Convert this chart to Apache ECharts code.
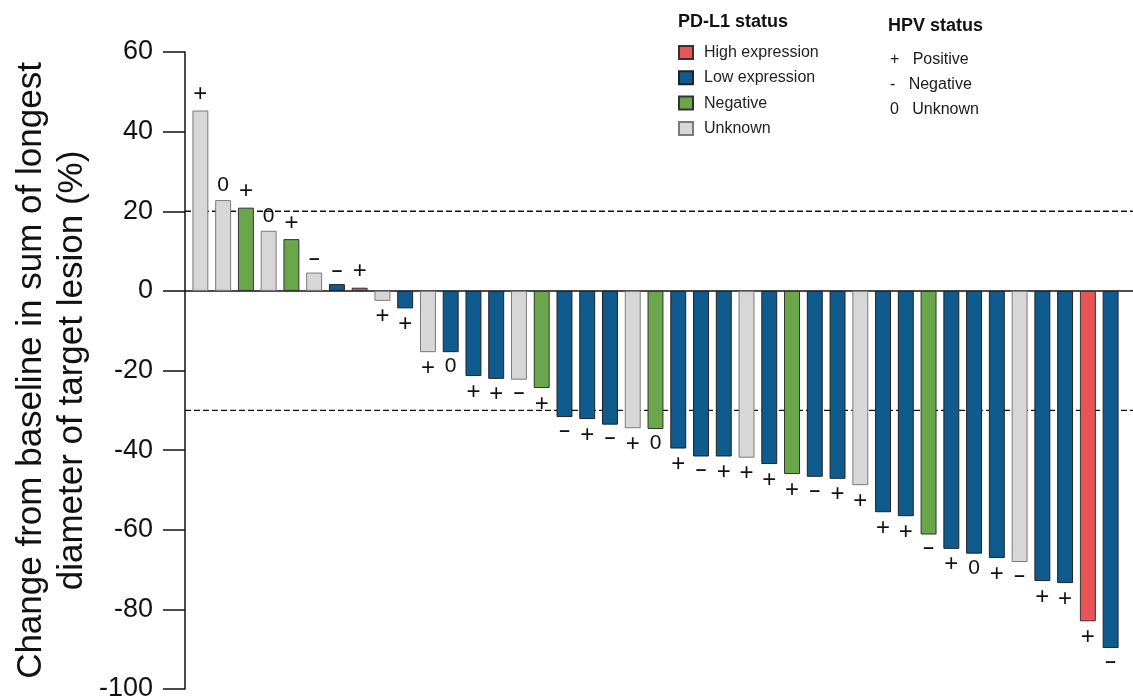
<!DOCTYPE html>
<html>
<head>
<meta charset="utf-8">
<script src="https://cdn.jsdelivr.net/npm/echarts@6/dist/echarts.min.js"></script>
<style>html,body{margin:0;padding:0;background:#fff}#c{width:1133px;height:700px}</style>
</head>
<body>
<div id="c"></div>
<script>
// ---- data ----
const patients = Array.from({length: 41}, (_, i) => 'P' + (i + 1));
const changePct = [45.3, 22.8, 20.9, 15.1, 13.0, 4.6, 1.7, 0.8, -2.5, -4.4,
  -15.4, -15.4, -21.4, -22.1, -22.3, -24.4, -31.7, -32.2, -33.6, -34.5,
  -34.7, -39.6, -41.6, -41.6, -41.9, -43.5, -46.0, -46.7, -47.2, -48.8,
  -55.6, -56.6, -61.2, -64.8, -66.0, -67.1, -68.1, -72.9, -73.4, -83.0, -89.7];
const pdl1 = ['U','U','N','U','N','U','L','H','U','L',
  'U','L','L','L','U','N','L','L','L','U',
  'N','L','L','L','U','L','N','L','L','U',
  'L','L','N','L','L','L','U','L','L','H','L'];
const hpv = ['+','0','+','0','+','-','-','+','+','+',
  '+','0','+','+','-','+','-','+','-','+',
  '0','+','-','+','+','+','+','-','+','+',
  '+','+','-','+','0','+','-','+','+','+','-'];
const pdl1Groups = ['H', 'L', 'N', 'U'];
const pdl1Names = ['High expression', 'Low expression', 'Negative', 'Unknown'];
const hpvLegend = [['+', 'Positive'], ['-', 'Negative'], ['0', 'Unknown']];
const refLines = [20, -30];
const yTicks = {min: -100, max: 60, step: 20};

// ---- style ----
const colors = {H: '#e95454', L: '#105b8d', N: '#6aa74a', U: '#d7d7d7'};
const borders = {H: '#333', L: '#222', N: '#333', U: '#7a7a7a'};
const FONT = 'Liberation Sans, Arial, sans-serif';
const GRID_LEFT = 189, Y_OFFSET = 4, GRID_RIGHT = 11, GRID_TOP = 52, GRID_BOTTOM = 11;
const richKey = {'+': 'p', '-': 'd', '0': 'z'};

const chart = echarts.init(document.getElementById('c'));

const series = pdl1Groups.map((g, gi) => ({
  name: pdl1Names[gi],
  type: 'bar',
  stack: 'all',
  barWidth: '70%',
  z: 2,
  itemStyle: {color: colors[g], borderColor: borders[g], borderWidth: 1},
  label: {
    show: true,
    fontFamily: FONT,
    fontSize: 20,
    color: '#111',
    distance: 4,
    formatter: p => {
      const h = hpv[p.dataIndex];
      return '{' + richKey[h] + '|' + (h === '-' ? '–' : h) + '}';
    },
    rich: {
      p: {fontFamily: FONT, fontSize: 24, color: '#111'},
      d: {fontFamily: FONT, fontSize: 19, fontWeight: 'bold', color: '#111'},
      z: {fontFamily: FONT, fontSize: 21, color: '#111'}
    }
  },
  data: changePct.map((v, i) => pdl1[i] === g
    ? {value: v, label: {position: v >= 0 ? 'top' : 'bottom'}}
    : '-')
}));

const option = {
  animation: false,
  textStyle: {fontFamily: FONT},
  grid: {left: GRID_LEFT, right: GRID_RIGHT, top: GRID_TOP, bottom: GRID_BOTTOM, containLabel: false, outerBoundsMode: 'none'},
  legend: {
    data: pdl1Names,
    orient: 'vertical',
    left: 678,
    top: 44.5,
    padding: 0,
    itemWidth: 14,
    itemHeight: 13,
    itemGap: 9.3,
    icon: 'rect',
    textStyle: {fontFamily: FONT, fontSize: 16, color: '#222', lineHeight: 16, padding: [0, 0, 0, 6]},
    selectedMode: false
  },
  xAxis: {
    type: 'category',
    data: patients,
    axisLine: {show: false},
    axisTick: {show: false},
    axisLabel: {show: false},
    splitLine: {show: false}
  },
  yAxis: {
    type: 'value',
    min: yTicks.min,
    max: yTicks.max,
    interval: yTicks.step,
    offset: Y_OFFSET,
    name: 'Change from baseline in sum of longest\ndiameter of target lesion (%)',
    nameLocation: 'middle',
    nameGap: 92,
    nameMoveOverlap: false,
    nameTextStyle: {fontFamily: FONT, fontSize: 35, color: '#111', lineHeight: 41},
    axisLine: {show: true, lineStyle: {color: '#111', width: 1.5}},
    axisTick: {show: true, length: 22, lineStyle: {color: '#111', width: 1.5}},
    axisLabel: {fontFamily: FONT, fontSize: 27, color: '#111', margin: 32},
    splitLine: {show: false}
  },
  series: series,
  graphic: [
    {type: 'text', left: 678, top: 13.5, style: {text: 'PD-L1 status', font: 'bold 18px ' + FONT, fill: '#111'}},
    {type: 'text', left: 888, top: 17.5, style: {text: 'HPV status', font: 'bold 18px ' + FONT, fill: '#111'}}
  ].concat(hpvLegend.map((h, i) => ({
    type: 'text', left: 890, top: 51.3 + i * 25.2,
    style: {text: h[0] + '   ' + h[1], font: '16px ' + FONT, fill: '#1a1a1a'}
  })))
};
chart.setOption(option);

// reference lines and zero line, positioned through the y axis scale
const xStart = GRID_LEFT - Y_OFFSET;
const xEnd = 1133;
const lineGraphics = [];
const y0 = chart.convertToPixel({yAxisIndex: 0}, 0);
lineGraphics.push({type: 'line', z: 1, shape: {x1: xStart, y1: y0, x2: xEnd, y2: y0}, style: {stroke: '#111', lineWidth: 1.5}});
refLines.forEach(v => {
  const y = chart.convertToPixel({yAxisIndex: 0}, v);
  lineGraphics.push({type: 'line', z: 0, shape: {x1: xStart, y1: y, x2: xEnd, y2: y}, style: {stroke: '#111', lineWidth: 1.3, lineDash: [6, 3]}});
});
chart.setOption({graphic: option.graphic.concat(lineGraphics)});
</script>
</body>
</html>
